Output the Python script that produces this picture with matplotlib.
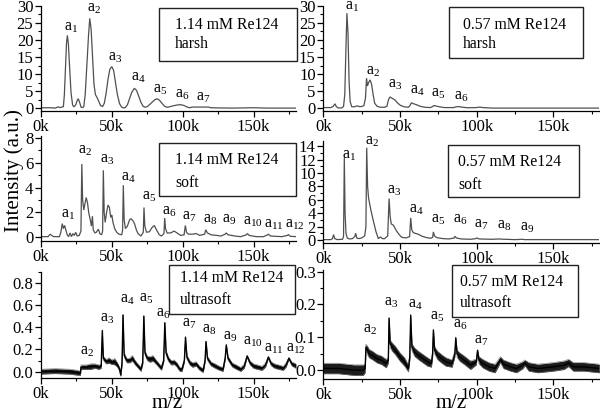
import matplotlib
matplotlib.use('Agg')
import matplotlib.pyplot as plt
from matplotlib.patches import Rectangle
from matplotlib.ticker import MultipleLocator, FuncFormatter
import matplotlib.transforms as mtransforms

plt.rcParams['font.family'] = ['Liberation Serif', 'DejaVu Serif']
plt.rcParams['mathtext.fontset'] = 'custom'
plt.rcParams['mathtext.rm'] = 'Liberation Serif'
plt.rcParams['mathtext.it'] = 'Liberation Serif:italic'
plt.rcParams['mathtext.bf'] = 'Liberation Serif:bold'

# ---------------- data (m/z in kDa, intensity in a.u.) ----------------
harsh114_mz = [0, 7, 10, 12, 13.5, 15.8, 16.5, 17.3, 18, 18.6, 19.3, 20.2, 21.2, 22.3, 23.2, 24.5, 25.5, 26.3, 27.2, 28.3,
               29.5, 30.2, 31.2, 32.3, 33.5, 34.4, 35.4, 36.4, 37.4, 38.4, 39.5, 40.8, 42, 43.5, 44.7, 46, 47.3, 48.6, 50, 51.3,
               52.6, 54, 55.5, 57, 58.2, 59.5, 61, 62.5, 64, 65.9, 67.5, 69, 70.5, 72, 73.5, 75, 77, 79, 80.5, 82,
               83.5, 85.5, 87.5, 89, 90.5, 93, 96, 98.5, 101, 103.5, 105, 106.5, 118, 120, 125, 135, 150, 160, 180]
harsh114_int = [0.15, 0.15, 0.05, 0.4, 0.2, 0.5, 4, 12, 19, 21.3, 19, 12, 4.5, 1, 0.4, 1, 2.2, 2.8, 1.8, 0.3,
                0.2, 0.5, 4, 12, 21, 26.3, 23, 15, 7, 4, 3.2, 2, 0.8, 0.5, 1.5, 4.5, 8.5, 11.4, 12.2, 11,
                7.5, 3.8, 1.3, 0.3, 0.1, 0.2, 1, 2.8, 4.6, 5.85, 5.2, 3.5, 1.8, 0.6, 0.3, 0.5, 1.2, 2.0, 2.55, 2.75,
                2.4, 1.4, 0.5, 0.3, 0.4, 0.7, 0.95, 1.05, 0.8, 0.3, 0.15, 0.35, 0.35, 0.15, 0.1, 0.05, 0.15, 0.05, 0.05]

harsh057_mz = [0, 5, 6.5, 7.6, 8.5, 9.5, 12, 13.2, 14, 14.8, 15.4, 16.1, 16.8, 17.5, 18.5, 20, 22, 23.5, 25, 26.5,
               27.5, 28.2, 28.8, 29.5, 30.5, 31.5, 32.5, 33.5, 35, 37, 40, 41.5, 42.5, 43.5, 45, 46.8, 48.5, 50.5, 53, 55.5,
               56.5, 57.5, 59, 61, 63, 66, 70, 71.2, 72.2, 74, 76, 79, 85, 86.5, 88, 90, 94, 100, 102, 104, 110, 180]
harsh057_int = [0.2, 0.2, 0.6, 1.3, 0.5, 0.1, 0.1, 0.5, 4, 18, 27.8, 22, 8, 2, 0.5, 0.4, 0.7, 0.5, 0.5, 0.8,
                3, 8.8, 6.5, 7.5, 8.3, 7, 4, 1.5, 0.6, 0.3, 0.3, 0.6, 2.5, 3.3, 2.9, 2.4, 1.5, 0.8, 0.4, 0.3,
                0.8, 1.6, 1.3, 1.0, 0.6, 0.3, 0.2, 0.5, 0.8, 0.6, 0.4, 0.2, 0.2, 0.4, 0.5, 0.35, 0.15, 0.2, 0.35, 0.2, 0.05, 0.05]

soft114_mz = [0, 5, 6.5, 7.5, 9, 13, 14, 15, 15.8, 16.7, 17.5, 18.5, 19.5, 20.5, 21.5, 22.5, 23.5, 24.5, 25.5, 27,
              28.2, 28.8, 29.4, 30.2, 31, 31.9, 32.8, 33.8, 34.8, 35.6, 36.3, 36.9, 38, 39, 40.5, 41.5, 42.8, 43.5, 44, 44.6,
              45.3, 46.3, 47.3, 48.3, 49.2, 50, 50.8, 52, 53.5, 55, 57, 57.6, 58.1, 58.7, 59.6, 61, 62.5, 63.5, 64.8, 66,
              67.3, 68.5, 70.5, 72.2, 72.7, 73.3, 74.5, 76.5, 78.5, 80, 81.5, 83.5, 85, 86.8, 87.3, 87.9, 89, 91.5, 94, 96,
              98.5, 101, 101.9, 102.7, 104, 107, 109.5, 112, 115.5, 116.3, 117.5, 120, 124, 127, 130, 130.7, 132, 137, 141, 145,
              145.7, 147, 152, 157, 160, 160.5, 162, 170, 174, 174.6, 176, 180]
soft114_int = [0.05, 0.05, 0.25, 0.15, 0.05, 0.05, 0.4, 1.1, 0.7, 0.95, 0.6, 0.2, 0.05, 0.35, 0.05, 0.3, 0.15, 0.4, 0.1, 0.15,
               0.5, 5.9, 3.0, 2.2, 2.7, 3.2, 2.8, 1.9, 1.4, 0.9, 1.7, 0.6, 0.35, 0.4, 0.65, 0.3, 0.2, 0.5, 5.4, 2.0,
               1.2, 2.0, 2.6, 2.4, 1.6, 1.8, 1.2, 0.7, 0.4, 0.25, 0.2, 0.6, 4.2, 1.4, 0.7, 0.9, 1.4, 1.5, 1.35, 1.1,
               0.6, 0.3, 0.1, 0.4, 2.4, 0.9, 0.4, 0.45, 0.8, 0.95, 0.6, 0.2, 0.1, 0.3, 1.55, 0.7, 0.35, 0.35, 0.5, 0.35,
               0.15, 0.2, 0.95, 0.4, 0.25, 0.25, 0.3, 0.15, 0.25, 0.6, 0.35, 0.2, 0.15, 0.1, 0.25, 0.35, 0.2, 0.1, 0.05, 0.2,
               0.3, 0.15, 0.05, 0.05, 0.2, 0.25, 0.1, 0.05, 0.15, 0.22, 0.08, 0.05]

soft057_mz = [0, 5, 6, 6.7, 7.5, 9, 12.5, 13.2, 13.7, 14.2, 14.8, 15.6, 17, 19, 20.5, 21.1, 21.8, 23, 25, 27,
              27.8, 28.3, 28.9, 29.5, 30.9, 32.6, 34.4, 35.9, 37.3, 38.5, 40, 42, 42.9, 43.6, 44.3, 45.7, 47.9, 49.5, 51.1, 54,
              56.3, 57, 57.7, 58.7, 60.5, 62, 64.5, 67.4, 70, 71.3, 71.8, 72.5, 74, 78, 82, 85.4, 85.9, 86.8, 90, 96,
              99.5, 100.2, 101.5, 110, 115, 116, 125, 130, 131, 180]
soft057_int = [0.05, 0.05, 0.2, 0.8, 0.2, 0.05, 0.1, 0.5, 12.3, 4, 1.0, 0.3, 0.15, 0.2, 0.5, 1.0, 0.3, 0.2, 0.3, 0.6,
               2, 13.8, 8, 6.3, 4.6, 2.9, 1.2, 0.2, 0.45, 0.2, 0.2, 0.6, 6.2, 3.5, 2.4, 2.2, 1.3, 0.8, 0.4, 0.3,
               0.5, 3.3, 1.5, 1.1, 0.95, 0.85, 0.55, 0.35, 0.25, 0.4, 1.2, 0.6, 0.35, 0.2, 0.15, 0.3, 0.55, 0.3, 0.15, 0.1,
               0.2, 0.3, 0.15, 0.1, 0.15, 0.12, 0.05, 0.1, 0.05, 0.05]

ultra114_mz = [0, 10, 20, 26, 27.8, 28.2, 32, 35, 38, 41, 42.5, 43.3, 44, 46, 48, 50, 52, 54, 55.5, 56.3,
               57.2, 57.9, 58.7, 60.5, 62.5, 64.5, 66.5, 68.5, 70.5, 71.8, 72.6, 73.4, 75, 77, 79, 81, 83, 85, 86.6, 87.4,
               88.3, 90, 92, 94, 96, 98, 99.5, 101.2, 102, 103, 105, 107, 109.5, 112, 114.5, 115.8, 116.5, 117.5, 120, 123,
               126, 128.5, 130, 130.8, 132, 135, 138, 141, 143.5, 145.5, 147.5, 150, 153, 156, 158.5, 160.5, 162.5, 165, 168, 171,
               173, 175, 177, 180]
ultra114_int = [0.0, 0.005, 0.0, -0.01, -0.015, 0.04, 0.04, 0.045, 0.05, 0.04, 0.05, 0.37, 0.12, 0.09, 0.1, 0.085, 0.09, 0.06, 0.02, -0.03,
                0.08, 0.51, 0.15, 0.1, 0.1, 0.12, 0.08, 0.05, 0.02, 0.08, 0.5, 0.17, 0.12, 0.11, 0.12, 0.09, 0.06, 0.03, 0.1, 0.44,
                0.17, 0.11, 0.08, 0.085, 0.06, 0.02, 0.02, 0.1, 0.31, 0.13, 0.08, 0.06, 0.07, 0.03, 0.01, 0.1, 0.27, 0.12, 0.07, 0.05,
                0.03, 0.02, 0.12, 0.24, 0.12, 0.06, 0.04, 0.02, 0.05, 0.14, 0.08, 0.05, 0.04, 0.03, 0.06, 0.13, 0.07, 0.05, 0.04, 0.03,
                0.06, 0.12, 0.07, 0.05]
ultra114_noise = [0.022, 0.022, 0.022, 0.022, 0.018, 0.02, 0.02, 0.025, 0.02, 0.02, 0.018, 0.004, 0.018, 0.02, 0.025, 0.02, 0.028, 0.02, 0.018, 0.013,
                  0.018, 0.004, 0.018, 0.02, 0.02, 0.025, 0.02, 0.018, 0.018, 0.013, 0.004, 0.018, 0.02, 0.025, 0.025, 0.02, 0.018, 0.018, 0.013, 0.004,
                  0.018, 0.02, 0.02, 0.02, 0.02, 0.018, 0.018, 0.013, 0.004, 0.018, 0.02, 0.02, 0.02, 0.018, 0.018, 0.013, 0.004, 0.018, 0.018, 0.02,
                  0.018, 0.018, 0.013, 0.004, 0.018, 0.018, 0.02, 0.018, 0.018, 0.009, 0.018, 0.02, 0.02, 0.018, 0.018, 0.009, 0.018, 0.02, 0.02, 0.018,
                  0.018, 0.009, 0.018, 0.02]

ultra057_mz = [0, 10, 20, 26, 27.3, 27.8, 28.8, 30, 32, 35, 38, 41, 42.4, 42.9, 43.6, 45, 47, 50, 53, 55.5,
               56.4, 57, 57.8, 59.5, 62, 65, 68, 70.5, 71.3, 71.8, 72.6, 74.5, 77, 80, 84, 85.8, 86.4, 87.2, 89, 92,
               96, 99.8, 100.6, 101.5, 104, 108, 112, 114, 115.5, 117.5, 122, 126, 130, 131.5, 134, 140, 150, 157, 160, 163,
               170, 180]
ultra057_int = [0.005, 0.005, 0.0, 0.0, 0.005, 0.07, 0.06, 0.05, 0.045, 0.035, 0.03, 0.02, 0.03, 0.158, 0.08, 0.07, 0.06, 0.04, 0.025, 0.005,
                0.04, 0.167, 0.07, 0.055, 0.045, 0.035, 0.025, 0.02, 0.05, 0.122, 0.06, 0.045, 0.035, 0.025, 0.02, 0.05, 0.098, 0.05, 0.04, 0.03,
                0.015, 0.025, 0.06, 0.03, 0.02, 0.01, 0.005, 0.02, 0.032, 0.018, 0.01, 0.005, 0.015, 0.022, 0.01, 0.005, 0.01, 0.015, 0.022, 0.01,
                0.01, 0.005]
ultra057_noise = [0.016, 0.016, 0.016, 0.016, 0.013, 0.009, 0.013, 0.013, 0.013, 0.013, 0.013, 0.013, 0.009, 0.003, 0.011, 0.013, 0.013, 0.013, 0.013, 0.011,
                  0.009, 0.003, 0.011, 0.013, 0.013, 0.013, 0.013, 0.011, 0.009, 0.003, 0.011, 0.013, 0.013, 0.013, 0.011, 0.009, 0.003, 0.011, 0.013, 0.013,
                  0.013, 0.009, 0.003, 0.011, 0.013, 0.013, 0.013, 0.011, 0.009, 0.013, 0.013, 0.013, 0.011, 0.009, 0.013, 0.013, 0.013, 0.013, 0.011, 0.013,
                  0.013, 0.013]

# peak-label anchors (kDa, intensity)
lbl114h_x = [16.5, 32.3, 47.5, 63.6, 79.3, 94.6, 109.3]
lbl114h_y = [23.9, 29.4, 14.9, 9.0, 5.6, 4.3, 3.2]
lbl057h_x = [14.2, 27.7, 42.4, 56.6, 70.5, 85.5]
lbl057h_y = [29.8, 11.0, 7.2, 5.4, 4.6, 3.65]
lbl114s_x = [13.9, 26.3, 41.6, 56.5, 71.1, 85.6, 99.8, 114.2, 128.0, 142.9, 157.7, 172.3]
lbl114s_y = [1.87, 7.0, 6.3, 4.82, 3.35, 2.14, 1.74, 1.46, 1.46, 1.33, 1.06, 1.06]
lbl057s_x = [12.0, 27.2, 41.4, 55.7, 70.2, 84.8, 98.5, 113.1, 128.3]
lbl057s_y = [12.7, 14.8, 7.4, 4.7, 3.2, 3.2, 2.4, 2.2, 1.9]
lbl114u_x = [27.5, 41.7, 55.8, 69.4, 81.0, 99.4, 113.9, 128.3, 142.9, 157.5, 172.8]
lbl114u_y = [0.19, 0.487, 0.65, 0.665, 0.53, 0.44, 0.38, 0.32, 0.28, 0.21, 0.21]
lbl057u_x = [25.7, 39.6, 55.4, 69.6, 84.4, 98.5]
lbl057u_y = [0.124, 0.207, 0.2, 0.165, 0.14, 0.093]

conc = ['1.14 mM Re124', '0.57 mM Re124']
modes = ['harsh', 'soft', 'ultrasoft']

# ---------------- figure ----------------
W, H = 600, 416
fig = plt.figure(figsize=(W / 100, H / 100), dpi=100)


def px_axes(l, r, t, b):
    return fig.add_axes([l / W, 1 - b / H, (r - l) / W, (b - t) / H])


LINE = '#505050'
FS_TICK = 12
FS_LBL = 11.5
FS_BOX = 11.3

panels = [
    dict(rect=(41, 296, 5.7, 111), ylim=(-0.8, 30), ymaj=5, ymin=2.5, fmt='%d',
         x=harsh114_mz, y=harsh114_int, noise=None, lx=lbl114h_x, ly=lbl114h_y, n0=1,
         box=(159, 297, 8, 61), tx=175, ty=(25, 44), text=(conc[0], modes[0])),
    dict(rect=(323.3, 599.3, 5.7, 111), ylim=(-0.8, 30), ymaj=5, ymin=2.5, fmt='%d',
         x=harsh057_mz, y=harsh057_int, noise=None, lx=lbl057h_x, ly=lbl057h_y, n0=1,
         box=(449, 583, 7, 58), tx=463, ty=(25, 44), text=(conc[1], modes[0])),
    dict(rect=(41, 296, 135.5, 241), ylim=(-0.3, 8.2), ymaj=2, ymin=1, fmt='%d',
         x=soft114_mz, y=soft114_int, noise=None, lx=lbl114s_x, ly=lbl114s_y, n0=1,
         box=(159, 296, 143, 196), tx=175, ty=(160, 183), text=(conc[0], modes[1])),
    dict(rect=(323.3, 599.3, 141, 243.3), ylim=(-0.5, 14.8), ymaj=2, ymin=1, fmt='%d',
         x=soft057_mz, y=soft057_int, noise=None, lx=lbl057s_x, ly=lbl057s_y, n0=1,
         box=(448, 579, 145, 197), tx=458, ty=(162, 185), text=(conc[1], modes[1])),
    dict(rect=(41, 296, 271.7, 378.3), ylim=(-0.06, 0.9), ymaj=0.2, ymin=0.1, fmt='%.1f',
         x=ultra114_mz, y=ultra114_int, noise=ultra114_noise, lx=lbl114u_x, ly=lbl114u_y, n0=2,
         box=(169, 295, 265, 314), tx=180, ty=(278, 300), text=(conc[0], modes[2])),
    dict(rect=(323.3, 599.3, 270, 379.3), ylim=(-0.028, 0.305), ymaj=0.1, ymin=0.05, fmt='%.1f',
         x=ultra057_mz, y=ultra057_int, noise=ultra057_noise, lx=lbl057u_x, ly=lbl057u_y, n0=2,
         box=(452, 578, 265, 317), tx=460, ty=(282, 303), text=(conc[1], modes[2])),
]

for p in panels:
    ax = px_axes(*p['rect'])
    if p['noise'] is None:
        ax.plot(p['x'], p['y'], color=LINE, lw=0.9, solid_joinstyle='miter')
    else:
        lo = [a - b for a, b in zip(p['y'], p['noise'])]
        hi = [a + b for a, b in zip(p['y'], p['noise'])]
        ax.fill_between(p['x'], lo, hi, color='#1c1c1c', lw=0)
        ax.plot(p['x'], lo, color='#777777', lw=0.4)
        ax.plot(p['x'], hi, color='#777777', lw=0.4)
        ax.plot(p['x'], p['y'], color='#000000', lw=1.0)
    ax.set_xlim(0, 180)
    ax.set_ylim(*p['ylim'])
    for s in ('top', 'right'):
        ax.spines[s].set_visible(False)
    for s in ('left', 'bottom'):
        ax.spines[s].set_linewidth(0.9)
    ax.xaxis.set_major_locator(MultipleLocator(50))
    ax.xaxis.set_minor_locator(MultipleLocator(25))
    ax.xaxis.set_major_formatter(FuncFormatter(lambda v, pos: '%dk' % round(v)))
    ax.yaxis.set_major_locator(MultipleLocator(p['ymaj']))
    ax.yaxis.set_minor_locator(MultipleLocator(p['ymin']))
    fmt = p['fmt']
    ax.yaxis.set_major_formatter(FuncFormatter(lambda v, pos, f=fmt: f % v))
    ax.tick_params(which='major', direction='out', length=4, width=0.9, labelsize=FS_TICK, pad=1.5)
    ax.tick_params(which='minor', direction='out', length=2.2, width=0.8)
    ax.patch.set_alpha(0)

    trans = mtransforms.offset_copy(ax.transData, fig=fig, x=0, y=-3.6, units='dots')
    for i, (lx, ly) in enumerate(zip(p['lx'], p['ly'])):
        ax.text(lx, ly, r'a$_{%d}$' % (p['n0'] + i), transform=trans,
                ha='left', va='baseline', fontsize=FS_LBL, clip_on=False)

    bl, br, bt, bb = p['box']
    fig.patches.append(Rectangle((bl / W, 1 - bb / H), (br - bl) / W, (bb - bt) / H,
                                 transform=fig.transFigure, fill=False,
                                 edgecolor='#222222', lw=1.0))
    for line, yy in zip(p['text'], p['ty']):
        fig.text(p['tx'] / W, 1 - yy / H, line, ha='left', va='center', fontsize=FS_BOX)

fig.text(14 / W, 1 - 171 / H, 'Intensity (a.u.)', rotation=90, ha='center', va='center', fontsize=15)
fig.text(167 / W, 1 - 404 / H, 'm/z', ha='center', va='center', fontsize=15)
fig.text(451 / W, 1 - 404 / H, 'm/z', ha='center', va='center', fontsize=15)

fig.savefig('out.png', dpi=100)
